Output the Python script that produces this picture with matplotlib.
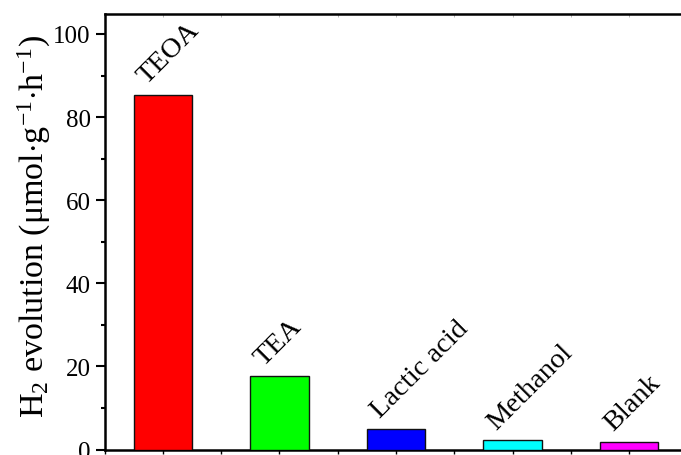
import matplotlib
matplotlib.use('Agg')
import matplotlib.pyplot as plt
from matplotlib.ticker import MultipleLocator

plt.rcParams['font.family'] = 'serif'
plt.rcParams['font.serif'] = ['Liberation Serif', 'DejaVu Serif']
plt.rcParams['mathtext.fontset'] = 'custom'
plt.rcParams['mathtext.rm'] = 'Liberation Serif'
plt.rcParams['mathtext.it'] = 'Liberation Serif:italic'
plt.rcParams['mathtext.bf'] = 'Liberation Serif:bold'

# sacrificial agents and H2 evolution rates
agents = ['TEOA', 'TEA', 'Lactic acid', 'Methanol', 'Blank']
rates = [85.4, 17.6, 4.9, 2.2, 1.75]
colors = ['#FF0000', '#00FF00', '#0000FF', '#00FFFF', '#FF00FF']

W, H = 681, 456
fig = plt.figure(figsize=(W / 100, H / 100), dpi=100)
# right spine sits just past the image edge
ax = fig.add_axes([104.5 / W, 5.5 / H, 583 / W, 435.5 / H])

xs = list(range(1, len(agents) + 1))
ax.bar(xs, rates, width=0.5, color=colors, edgecolor='#111111', linewidth=1.0, zorder=3)

for x, v, name in zip(xs, rates, agents):
    ax.text(x - 0.14, v + 2.6, name, rotation=45, rotation_mode='anchor',
            ha='left', va='baseline', fontsize=20.5)

ax.set_xlim(0.5, 5.5)
ax.set_ylim(0, 104.8)
ax.yaxis.set_major_locator(MultipleLocator(20))
ax.yaxis.set_minor_locator(MultipleLocator(10))
ax.xaxis.set_major_locator(MultipleLocator(1))
ax.xaxis.set_minor_locator(MultipleLocator(0.5))
ax.set_xticklabels([])

ax.tick_params(axis='y', which='major', direction='out', length=6.5, width=1.5, labelsize=18, pad=3.5)
ax.tick_params(axis='y', which='minor', direction='out', length=3, width=1.5)
ax.tick_params(axis='x', which='both', direction='out', length=3, width=1.0)
for s in ax.spines.values():
    s.set_linewidth(1.8)

# faint inward ticks along the top frame
top = ax.secondary_xaxis('top')
top.xaxis.set_major_locator(MultipleLocator(1))
top.xaxis.set_minor_locator(MultipleLocator(0.5))
top.tick_params(which='both', direction='in', length=2, width=0.6, colors='#aaaaaa', labeltop=False)
top.spines['top'].set_visible(False)

ax.set_ylabel(r'H$_2$ evolution ($\mathregular{\mu}$mol$\cdot$g$^{-1}$$\cdot$h$^{-1}$)',
              fontsize=24.5)
ax.yaxis.set_label_coords(-0.088, 0.514)

fig.savefig('out.png', dpi=100)
